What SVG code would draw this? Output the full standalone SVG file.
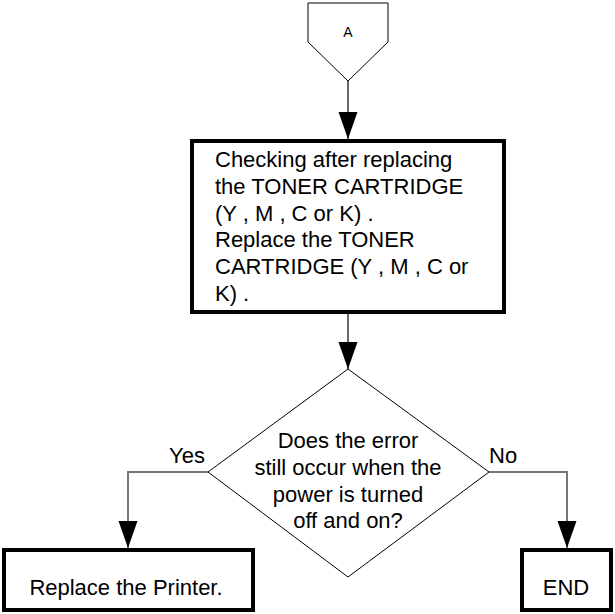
<svg xmlns="http://www.w3.org/2000/svg" width="615" height="614" viewBox="0 0 615 614">
  <style>
    text { font-family: "Liberation Sans", Arial, sans-serif; fill: #000; }
    .lbl { font-size: 22px; }
    .thin { fill: #fff; stroke: #000; stroke-width: 1; }
    .bold { fill: #fff; stroke: #000; stroke-width: 4; }
    .flow { fill: none; stroke: #000; stroke-width: 1.2; }
    .branch { fill: none; stroke: #777; stroke-width: 2; }
  </style>
  <defs>
    <marker id="arrow" markerUnits="userSpaceOnUse" markerWidth="28" markerHeight="20" refX="27" refY="9.5" orient="auto" viewBox="0 0 28 20">
      <path d="M0,0 L27,9.5 L0,19 z" fill="#000"/>
    </marker>
  </defs>

  <rect width="615" height="614" fill="#fff"/>

  <!-- connectors -->
  <g id="connectors">
    <path class="flow" d="M348,81 V139" marker-end="url(#arrow)"/>
    <path class="flow" d="M348,314 V369" marker-end="url(#arrow)"/>
    <path class="branch" d="M208,472 H128 V548" marker-end="url(#arrow)"/>
    <path class="branch" d="M489,472 H567 V548" marker-end="url(#arrow)"/>
    <text class="lbl" x="169" y="463">Yes</text>
    <text class="lbl" x="489" y="463">No</text>
  </g>

  <!-- off-page connector A -->
  <g id="connector-a">
    <polygon class="thin" points="308,3 388,3 388,42 348,81 308,42"/>
    <text x="348" y="37" font-size="14" text-anchor="middle">A</text>
  </g>

  <!-- check step -->
  <g id="check-toner">
    <rect class="bold" x="192" y="141" width="312" height="171"/>
    <text class="lbl" x="215" y="167">Checking after replacing</text>
    <text class="lbl" x="215" y="193.8">the TONER CARTRIDGE</text>
    <text class="lbl" x="215" y="220.6">(Y , M , C or K) .</text>
    <text class="lbl" x="215" y="247.4">Replace the TONER</text>
    <text class="lbl" x="215" y="274.2">CARTRIDGE (Y , M , C or</text>
    <text class="lbl" x="215" y="301">K) .</text>
  </g>

  <!-- decision -->
  <g id="decision">
    <polygon class="thin" points="348,369 489,472 348,577 208,472"/>
    <text class="lbl" x="348" y="448" text-anchor="middle">Does the error</text>
    <text class="lbl" x="348" y="475" text-anchor="middle">still occur when the</text>
    <text class="lbl" x="348" y="502" text-anchor="middle">power is turned</text>
    <text class="lbl" x="348" y="528" text-anchor="middle">off and on?</text>
  </g>

  <!-- yes branch -->
  <g id="replace-printer">
    <rect class="bold" x="4" y="550" width="249" height="60"/>
    <text class="lbl" x="126" y="595" text-anchor="middle">Replace the Printer.</text>
  </g>

  <!-- no branch -->
  <g id="end">
    <rect class="bold" x="522" y="550" width="89" height="60"/>
    <text class="lbl" x="566" y="595" text-anchor="middle">END</text>
  </g>
</svg>
